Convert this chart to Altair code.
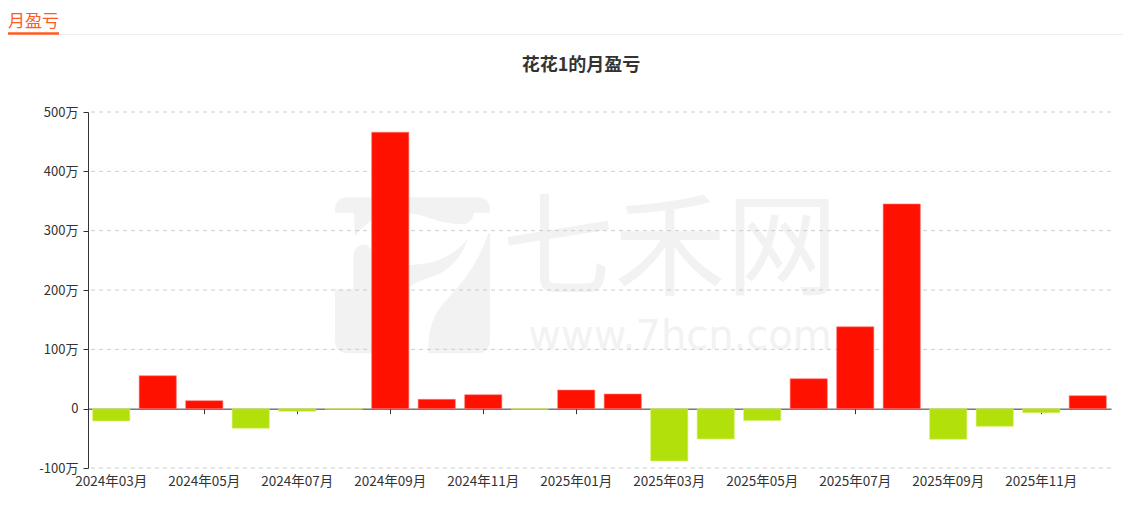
import altair as alt
import pandas as pd

months = ["2024年03月", "2024年04月", "2024年05月", "2024年06月", "2024年07月", "2024年08月",
          "2024年09月", "2024年10月", "2024年11月", "2024年12月", "2025年01月", "2025年02月",
          "2025年03月", "2025年04月", "2025年05月", "2025年06月", "2025年07月", "2025年08月",
          "2025年09月", "2025年10月", "2025年11月", "2025年12月"]
values = [-20.6, 55.5, 13.5, -33, -4.5, -1, 466, 15.7, 23.6, -1, 31.4, 24.7,
          -88, -51, -20, 50.5, 138, 345, -51.6, -29.8, -6.7, 21.9]
y_ticks = [-100, 0, 100, 200, 300, 400, 500]
x_label_months = months[::2]

title_text = "花花1的月盈亏"
header_text = "月盈亏"

FONT = "Noto Sans CJK SC"
RED = "#ff1100"
GREEN = "#b2e00b"

W, H = 1023, 356

df = pd.DataFrame({"month": months, "value": values})
df["sign"] = ["pos" if v >= 0 else "neg" for v in values]

one = pd.DataFrame({"a": [0]})

# ---- watermark logo as custom symbol path ----
LOGO = [
    ("M", [(15, 68)]), ("L", [(15, 60)]), ("Q", [(15, 22), (55, 22)]), ("L", [(440, 22)]),
    ("Q", [(480, 22), (480, 60)]), ("L", [(480, 68)]), ("L", [(432, 68)]),
    ("Q", [(425, 105), (390, 103)]), ("Q", [(340, 100), (300, 85)]),
    ("Q", [(250, 65), (200, 70)]), ("Q", [(120, 75), (75, 140)]), ("L", [(72, 68)]), ("Z", []),
    ("M", [(15, 298)]), ("L", [(70, 298)]), ("L", [(70, 200)]), ("Q", [(72, 163), (110, 163)]),
    ("Q", [(150, 225), (240, 225)]), ("Q", [(350, 225), (415, 145)]),
    ("Q", [(380, 240), (300, 262)]), ("Q", [(260, 275), (240, 290)]), ("L", [(235, 490)]),
    ("L", [(55, 490)]), ("Q", [(15, 490), (15, 450)]), ("Z", []),
    ("M", [(475, 130)]), ("L", [(480, 130)]), ("L", [(480, 450)]), ("Q", [(480, 490), (440, 490)]),
    ("L", [(295, 490)]), ("Q", [(290, 400), (340, 340)]), ("Q", [(440, 240), (475, 130)]), ("Z", []),
]


def logo_path():
    cx, cy, half = 247.5, 256.0, 234.0
    parts = []
    for cmd, pts in LOGO:
        s = cmd
        for (px, py) in pts:
            s += " %.4f,%.4f" % ((px - cx) / half, (py - cy) / half)
        parts.append(s)
    return " ".join(parts)


logo = alt.Chart(one).mark_point(
    shape=logo_path(), filled=True, color="#f2f2f2", opacity=1, size=156 * 156, strokeWidth=0
).encode(x=alt.value(324.5), y=alt.value(163.3))

wm1 = alt.Chart(one).mark_text(
    text="七禾网", font=FONT, fontSize=112, color="#f2f2f2", align="center", baseline="middle"
).encode(x=alt.value(582), y=alt.value(141))

wm2 = alt.Chart(one).mark_text(
    text="www.7hcn.com", font="DejaVu Sans", fontSize=40, color="#f2f2f2", align="center",
    baseline="alphabetic"
).encode(x=alt.value(592), y=alt.value(237))

# ---- grid ----
grid = alt.Chart(pd.DataFrame({"t": [t for t in y_ticks if t != 0]})).mark_rule(
    color="#cccccc", strokeDash=[4, 4], strokeWidth=1
).encode(y=alt.Y("t:Q", scale=alt.Scale(domain=[-100, 500], nice=False)))

# ---- bars ----
bars = alt.Chart(df).mark_bar(strokeWidth=1, strokeOpacity=0.6).encode(
    x=alt.X("month:N", sort=months,
            scale=alt.Scale(paddingInner=0.2, paddingOuter=0.1),
            axis=alt.Axis(values=x_label_months, title=None, labelAngle=0, orient="bottom",
                          offset=-(H * 100 / 600), domainColor="#333333", tickColor="#333333",
                          tickSize=5, labelPadding=61, labelColor="#333333", labelFontSize=13.5,
                          labelFont=FONT, grid=False)),
    y=alt.Y("value:Q", scale=alt.Scale(domain=[-100, 500], nice=False),
            axis=alt.Axis(values=y_ticks, title=None, grid=False, domainColor="#333333",
                          tickColor="#333333", tickSize=5, labelPadding=5,
                          labelColor="#333333", labelFontSize=13, labelFont=FONT,
                          labelExpr="datum.value == 0 ? '0' : datum.value + '万'")),
    color=alt.Color("sign:N", scale=alt.Scale(domain=["pos", "neg"], range=[RED, GREEN]),
                    legend=None),
    stroke=alt.Stroke("sign:N", scale=alt.Scale(domain=["pos", "neg"],
                                                range=["#ff7a7a", "#d6f06a"]), legend=None),
)

# ---- titles ----
title = alt.Chart(one).mark_text(
    text=title_text, font=FONT, fontSize=18, fontWeight="bold", color="#333333",
    align="center", baseline="middle"
).encode(x=alt.value(493), y=alt.value(-46))

header = alt.Chart(one).mark_text(
    text=header_text, font=FONT, fontSize=17, color="#ff5a1f", align="left", baseline="middle"
).encode(x=alt.value(-80), y=alt.value(-90))

header_line = alt.Chart(one).mark_rule(color="#eeeeee", strokeWidth=1).encode(
    x=alt.value(-29), x2=alt.value(1040), y=alt.value(-77.5))

header_under = alt.Chart(one).mark_rule(color="#ff5a1f", strokeWidth=2.5).encode(
    x=alt.value(-80), x2=alt.value(-29), y=alt.value(-78.5))

chart = alt.layer(
    logo, wm1, wm2, grid, bars, title, header_line, header_under, header
).resolve_scale(color="independent", stroke="independent").properties(
    width=W, height=H,
    autosize=alt.AutoSizeParams(type="none"),
    padding={"left": 80, "top": 104, "right": 12, "bottom": 38},
).configure(font=FONT).configure_view(strokeWidth=0, stroke="transparent")

chart.save("out.html", embed_options={"renderer": "svg", "actions": False})
